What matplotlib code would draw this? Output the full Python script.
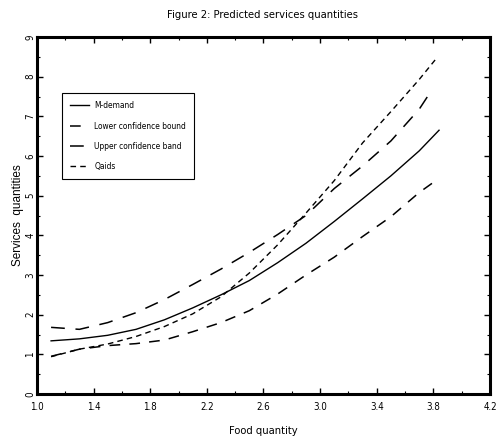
import matplotlib
matplotlib.use('Agg')
import matplotlib.pyplot as plt
from matplotlib.ticker import MultipleLocator

plt.rcParams['font.family'] = ['Liberation Sans Narrow', 'DejaVu Sans']
plt.rcParams['font.stretch'] = 'condensed'

# data ~~~~~~~~~~~~~~~~~~~~~~~~~~~~~~~~~~~~~~~~~~~~~~~~~~~~~~~~~~~~~~
food_m = [1.1, 1.3, 1.5, 1.7, 1.9, 2.1, 2.3, 2.5, 2.7, 2.9, 3.1, 3.3, 3.5, 3.7, 3.84]
m_demand = [1.34, 1.39, 1.48, 1.63, 1.87, 2.17, 2.50, 2.86, 3.31, 3.80, 4.35, 4.92, 5.50, 6.13, 6.65]

food_b = [1.1, 1.3, 1.5, 1.7, 1.9, 2.1, 2.3, 2.5, 2.7, 2.9, 3.1, 3.3, 3.5, 3.7, 3.79]
lower_band = [0.95, 1.13, 1.22, 1.27, 1.36, 1.57, 1.80, 2.10, 2.52, 3.00, 3.45, 3.97, 4.47, 5.08, 5.31]
upper_band = [1.68, 1.63, 1.80, 2.05, 2.38, 2.76, 3.15, 3.57, 4.02, 4.50, 5.18, 5.75, 6.38, 7.18, 7.67]

food_q = [1.1, 1.3, 1.5, 1.7, 1.9, 2.1, 2.3, 2.5, 2.7, 2.9, 3.1, 3.3, 3.5, 3.7, 3.83]
qaids = [0.94, 1.13, 1.26, 1.45, 1.70, 2.02, 2.45, 3.05, 3.76, 4.56, 5.38, 6.33, 7.12, 7.93, 8.50]

xticks = [1.0, 1.4, 1.8, 2.2, 2.6, 3.0, 3.4, 3.8, 4.2]

# figure ~~~~~~~~~~~~~~~~~~~~~~~~~~~~~~~~~~~~~~~~~~~~~~~~~~~~~~~~~~~~~
fig = plt.figure(figsize=(4.99, 4.46), dpi=100)
ax = fig.add_axes([0.074, 0.1166, 0.908, 0.8004])

ax.plot(food_m, m_demand, color='k', lw=1.0, label='M-demand')
ax.plot(food_b, lower_band, color='k', lw=1.1, dashes=(7, 6),
        label='Lower confidence bound')
ax.plot(food_b, upper_band, color='k', lw=1.1, dashes=(9, 7),
        label='Upper confidence band')
ax.plot(food_q, qaids, color='k', lw=1.0, dashes=(4, 3), label='Qaids')

ax.set_xlim(1.0, 4.2)
ax.set_ylim(0, 9)
ax.set_xticks(xticks)
ax.set_xticklabels(['%.1f' % v for v in xticks])
ax.xaxis.set_minor_locator(MultipleLocator(0.2))
ax.yaxis.set_major_locator(MultipleLocator(1))
ax.yaxis.set_minor_locator(MultipleLocator(0.5))
ax.tick_params(which='both', direction='in', top=True, right=True, labelsize=7)
ax.tick_params(which='major', length=4, width=1)
ax.tick_params(which='minor', length=2, width=0.8)
ax.tick_params(axis='x', pad=6)
ax.tick_params(axis='y', pad=1)
for lab in ax.get_yticklabels():
    lab.set_rotation(90)
    lab.set_va('center')
for sp in ax.spines.values():
    sp.set_linewidth(2.2)

ax.set_xlabel('Food quantity', fontsize=8, labelpad=10)
ax.set_ylabel('Services  quantities', fontsize=8.5, family=['Liberation Sans', 'DejaVu Sans'],
              stretch='normal', labelpad=1)
fig.text(0.527, 0.967, 'Figure 2: Predicted services quantities', fontsize=8,
         ha='center', va='center')

leg = ax.legend(loc='upper left', bbox_to_anchor=(0.055, 0.843), fontsize=6,
                frameon=True, fancybox=False, edgecolor='k', framealpha=1,
                handlelength=2.3, borderpad=1.0, labelspacing=1.35,
                handletextpad=0.6, borderaxespad=0)
leg.get_frame().set_linewidth(0.8)

fig.savefig('out.png', dpi=100)
